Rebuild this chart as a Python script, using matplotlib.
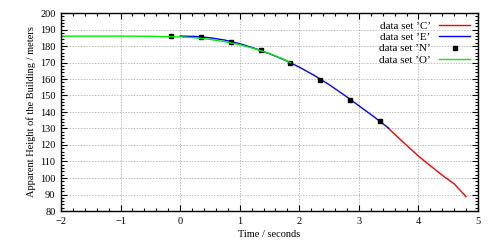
import matplotlib
matplotlib.use("Agg")
import matplotlib.pyplot as plt
from matplotlib.ticker import MultipleLocator

# data
t_c = [3.5, 3.75, 4.0, 4.1, 4.25, 4.45, 4.6, 4.8]
h_c = [130.0, 121.5, 113.3, 110.3, 106.0, 100.3, 96.5, 88.7]

t_e = [0.0, 0.25, 0.5, 0.75, 1.0, 1.25, 1.5, 1.75, 2.0, 2.25, 2.5, 2.75, 3.0, 3.25, 3.5]
h_e = [186.0, 185.8, 185.0, 183.6, 181.4, 178.6, 175.3, 171.6, 167.2, 162.2, 156.6, 150.4, 143.8, 137.2, 130.2]

t_n = [-0.15, 0.35, 0.85, 1.35, 1.85, 2.35, 2.85, 3.35]
h_n = [186.2, 185.6, 182.6, 177.3, 169.8, 159.5, 147.3, 134.3]

t_o = [-2.0, -1.5, -1.0, -0.5, 0.0, 0.25, 0.5, 0.75, 1.0, 1.25, 1.5, 1.75, 1.85]
h_o = [186.0, 186.0, 186.0, 185.9, 185.5, 185.0, 184.0, 182.6, 180.8, 178.4, 175.4, 171.8, 169.9]

labels = ["data set \u2019C\u2019", "data set \u2019E\u2019", "data set \u2019N\u2019", "data set \u2019O\u2019"]

plt.rcParams['font.family'] = ['Liberation Serif', 'DejaVu Serif']
plt.rcParams['font.size'] = 7.5

fig = plt.figure(figsize=(4.89, 2.45), dpi=100)
ax = fig.add_axes([61/489, 1 - 211/245, (478-61)/489, (211-13)/245])

ax.plot(t_c, h_c, color='#ff0000', lw=1.0, label=labels[0])
ax.plot(t_e, h_e, color='#0000ff', lw=1.0, label=labels[1])
ax.plot(t_n, h_n, ls='none', marker='s', ms=2.8, color='black', label=labels[2])
ax.plot(t_o, h_o, color='#00ee00', lw=1.0, label=labels[3])

ax.set_xlim(-2, 5)
ax.set_ylim(80, 200)
ax.xaxis.set_major_locator(MultipleLocator(1))
ax.xaxis.set_minor_locator(MultipleLocator(0.2))
ax.yaxis.set_major_locator(MultipleLocator(10))
ax.yaxis.set_minor_locator(MultipleLocator(2))
ax.tick_params(which='both', direction='in', top=True, right=True, width=0.8)
ax.tick_params(which='major', length=4, pad=4)
ax.tick_params(which='minor', length=2)
ax.grid(True, which='major', ls=(0, (2, 2)), color='#a0a0a0', lw=0.5)
for s in ax.spines.values():
    s.set_linewidth(1.0)

ax.set_xlabel('Time / seconds', labelpad=3)
ax.set_ylabel('Apparent Height of the Building / meters', labelpad=3)

leg = ax.legend(loc='upper right', markerfirst=False, frameon=False,
                prop={'size': 8}, handlelength=2.8, labelspacing=0.15,
                borderaxespad=0.6, borderpad=0.1, handletextpad=0.75)
for txt in leg.get_texts():
    txt.set_ha('right')

fig.savefig('out.png', dpi=100)
